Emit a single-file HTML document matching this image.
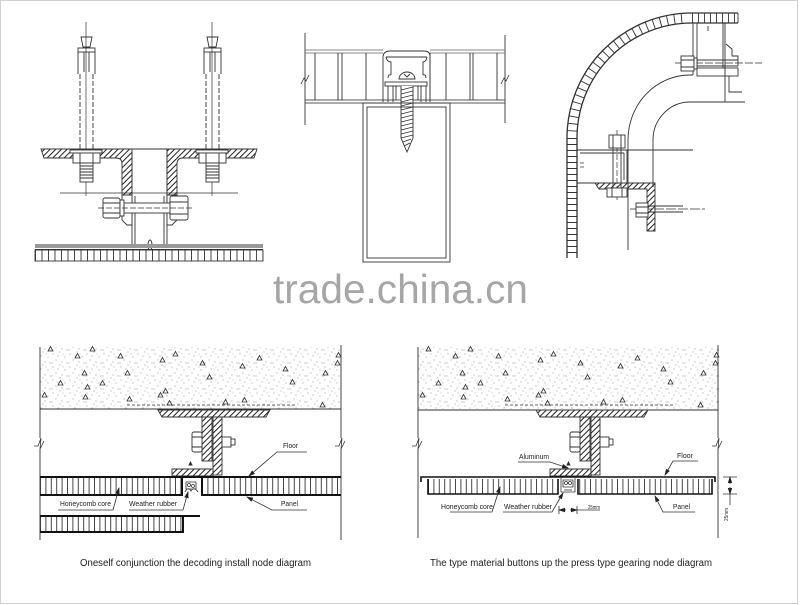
<!DOCTYPE html>
<html><head><meta charset="utf-8"><style>
html,body{margin:0;padding:0;background:#fff;}
svg{display:block;}
</style></head><body>
<svg width="800" height="605" viewBox="0 0 800 605" xmlns="http://www.w3.org/2000/svg" xmlns:xlink="http://www.w3.org/1999/xlink">
<defs>
<pattern id="hatch" width="4" height="4" patternUnits="userSpaceOnUse" patternTransform="rotate(45)">
  <line x1="1" y1="0" x2="1" y2="4" stroke="#222" stroke-width="1"/>
</pattern>
<pattern id="cellsA" x="35" y="0" width="6.5" height="20" patternUnits="userSpaceOnUse">
  <line x1="0.5" y1="0" x2="0.5" y2="20" stroke="#333" stroke-width="0.9"/>
</pattern>
<pattern id="cellsB" x="40" y="0" width="5.4" height="20" patternUnits="userSpaceOnUse">
  <line x1="0.5" y1="0" x2="0.5" y2="20" stroke="#333" stroke-width="0.9"/>
</pattern>
<pattern id="cellsC" x="428" y="0" width="5.4" height="20" patternUnits="userSpaceOnUse">
  <line x1="0.5" y1="0" x2="0.5" y2="20" stroke="#333" stroke-width="0.9"/>
</pattern>
<pattern id="hl6" x="0" y="138" width="20" height="6" patternUnits="userSpaceOnUse">
  <line x1="0" y1="0.5" x2="20" y2="0.5" stroke="#333" stroke-width="0.9"/>
</pattern>
<pattern id="vl6" x="692" y="0" width="6" height="20" patternUnits="userSpaceOnUse">
  <line x1="0.5" y1="0" x2="0.5" y2="20" stroke="#333" stroke-width="0.9"/>
</pattern>
<pattern id="conc" width="17" height="13" patternUnits="userSpaceOnUse">
  <g fill="#666">
  <circle cx="2" cy="3" r="0.45"/><circle cx="9" cy="1" r="0.45"/><circle cx="14" cy="6" r="0.45"/>
  <circle cx="5" cy="9" r="0.45"/><circle cx="11" cy="11" r="0.45"/><circle cx="16" cy="12" r="0.45"/>
  <circle cx="7" cy="5" r="0.45"/><circle cx="1" cy="12" r="0.45"/><circle cx="12" cy="3" r="0.4"/>
  </g>
</pattern>
<marker id="ah" markerWidth="7" markerHeight="6" refX="6" refY="3" orient="auto" markerUnits="userSpaceOnUse">
  <path d="M0 0.8 L7 3 L0 5.2 z" fill="#222"/>
</marker>
<path id="tri" d="M0 0 l2.5 -4.5 l2.5 4.5 z" fill="none" stroke="#333" stroke-width="0.8"/>
<line id="rl" x1="567" y1="138" x2="577" y2="138" stroke="#333" stroke-width="0.9"/>

<g id="anc" fill="none" stroke="#333" stroke-width="0.9">
  <line x1="86" y1="22" x2="86" y2="196" stroke-width="0.7"/>
  <path d="M81 37 H92 L90 47 H83 Z"/>
  <rect x="78" y="48" width="17" height="4"/>
  <path d="M78 52 V74 M95 52 V74 M84 52 V72 M89 52 V72"/>
  <path d="M80 74 V150 M93 74 V150" stroke-dasharray="5 2"/>
  <rect x="70" y="150" width="32" height="3" fill="#fff"/>
  <rect x="73" y="153" width="27" height="10" fill="#fff"/>
  <path d="M80 153 V163 M93 153 V163"/>
  <rect x="80" y="163" width="13" height="19" fill="#fff"/>
  <path d="M80 166 H93 M80 169 H93 M80 172 H93 M80 175 H93 M80 178 H93"/>
</g>

<g id="conc1">
  <rect x="40" y="347" width="301" height="62" fill="url(#conc)"/>
  <use xlink:href="#tri" x="48" y="351"/><use xlink:href="#tri" x="75" y="358"/><use xlink:href="#tri" x="90" y="351"/>
  <use xlink:href="#tri" x="118" y="358"/><use xlink:href="#tri" x="160" y="362"/><use xlink:href="#tri" x="173" y="356"/>
  <use xlink:href="#tri" x="200" y="365"/><use xlink:href="#tri" x="240" y="368"/><use xlink:href="#tri" x="257" y="360"/>
  <use xlink:href="#tri" x="283" y="371"/><use xlink:href="#tri" x="323" y="375"/><use xlink:href="#tri" x="336" y="357"/>
  <use xlink:href="#tri" x="335" y="365"/><use xlink:href="#tri" x="82" y="375"/><use xlink:href="#tri" x="58" y="385"/>
  <use xlink:href="#tri" x="100" y="385"/><use xlink:href="#tri" x="125" y="375"/><use xlink:href="#tri" x="83" y="399"/>
  <use xlink:href="#tri" x="163" y="393"/><use xlink:href="#tri" x="158" y="397"/><use xlink:href="#tri" x="127" y="401"/>
  <use xlink:href="#tri" x="167" y="405"/><use xlink:href="#tri" x="223" y="404"/><use xlink:href="#tri" x="242" y="402"/>
  <use xlink:href="#tri" x="290" y="384"/><use xlink:href="#tri" x="320" y="407"/><use xlink:href="#tri" x="42" y="397"/>
  <use xlink:href="#tri" x="207" y="379"/><use xlink:href="#tri" x="85" y="389"/>
  <line x1="127" y1="405" x2="297" y2="405" stroke="#333" stroke-width="0.8" stroke-dasharray="3 2"/>
</g>

<g id="tb" stroke="#333" stroke-width="0.9">
  <path d="M158 410 H270 L266 417 H162 Z" fill="url(#hatch)"/>
  <rect x="202" y="417" width="10" height="44" fill="url(#hatch)"/>
  <rect x="213" y="417" width="9" height="58" fill="url(#hatch)"/>
  <rect x="192" y="432" width="10" height="20" rx="2" fill="#fff"/>
  <path d="M192 437 H202 M192 447 H202" fill="none"/>
  <rect x="222" y="437" width="9" height="10" fill="#fff"/>
  <rect x="231" y="439" width="4" height="6" fill="#fff"/>
  <path d="M172 469 H213 V476 H172 Z" fill="url(#hatch)"/>
  <path d="M189 465 l1.5 -3 l1.5 3 z" fill="#222"/>
</g>
</defs>

<rect x="0.5" y="0.5" width="797" height="603" fill="#fff" stroke="#d0d0d0" stroke-width="1"/>

<!-- ============ TOP LEFT ============ -->
<g fill="none" stroke="#333" stroke-width="0.9">
  <path d="M41 149 H132 V195 H122 V164 Q122 158 116 158 H44 Z" fill="url(#hatch)"/>
  <path d="M167 149 H257 L254 158 H183 Q177 158 177 164 V195 H167 Z" fill="url(#hatch)"/>
  <line x1="41" y1="149" x2="257" y2="149"/>
  <path d="M132 149 V248 M167 149 V248"/>
  <path d="M135 196 V246 M164 196 V246"/>
  <line x1="60" y1="193" x2="238" y2="193" stroke-width="0.8"/>
</g>
<use xlink:href="#anc"/>
<use xlink:href="#anc" x="126"/>
<g fill="#fff" stroke="#333" stroke-width="0.9">
  <path d="M122 195 H132 V225 H127 L122 220 Z"/>
  <path d="M167 195 H177 V220 L172 225 H167 Z"/>
  <rect x="124" y="203" width="46" height="10"/>
  <rect x="103" y="198" width="17" height="20" rx="2"/>
  <path d="M103 203 H120 M103 213 H120" fill="none"/>
  <rect x="120" y="200" width="4" height="16"/>
  <rect x="170" y="196" width="18" height="24" rx="2"/>
  <path d="M170 202 H188 M170 214 H188" fill="none"/>
  <line x1="98" y1="208" x2="194" y2="208" stroke-dasharray="6 2" stroke-width="0.7"/>
  <ellipse cx="150" cy="245" rx="2" ry="5"/>
</g>
<rect x="35" y="244" width="228" height="4" fill="#999"/>
<line x1="35" y1="249.5" x2="263" y2="249.5" stroke="#333" stroke-width="1"/>
<rect x="35" y="250" width="228" height="11" fill="url(#cellsA)" stroke="#333" stroke-width="0.9"/>

<!-- ============ TOP MIDDLE ============ -->
<g fill="none" stroke="#333" stroke-width="0.9">
  <line x1="305" y1="33" x2="305" y2="125"/>
  <line x1="505" y1="35" x2="505" y2="123"/>
  <path d="M301 84 L304 78 L306 81 L309 75" stroke-width="0.8"/>
  <path d="M501 84 L504 78 L506 81 L509 75" stroke-width="0.8"/>
  <path d="M305 50 H383 M305 53 H383 M430 50 H505 M430 53 H505" stroke="#888"/>
  <path d="M305 100 H505 M305 103 H505" stroke="#555"/>
  <path d="M315 53 V100 M338 53 V100 M342 53 V100 M366 53 V100 M430 53 V100 M446 53 V100 M470 53 V100 M473 53 V100 M497 53 V100"/>
  <!-- connector -->
  <path d="M383 102 V56 Q384 51 390 51 H424 Q430 51 430 56 V102"/>
  <path d="M386 57 H427 M386 57 Q387 62 391 62 V75 M427 57 Q426 62 423 62 V75"/>
  <path d="M391 75 Q388 74 388 78 M423 75 Q426 74 426 78"/>
  <path d="M399 79 A8 7 0 0 1 415 79 Z" fill="#fff"/>
  <path d="M404 74 L407 77 L410 74"/>
  <rect x="385" y="82" width="42" height="4" fill="#fff"/>
  <path d="M388 86 V102 M393 86 V102 M396 86 V100 M418 86 V100 M421 86 V102 M426 86 V102"/>
  <path d="M401 86 V138 L407 152 L413 138 V86" fill="#fff"/>
  <path d="M401 90 L413 87 M401 94 L413 91 M401 98 L413 95 M401 102 L413 99 M401 106 L413 103 M401 110 L413 107 M401 114 L413 111 M401 118 L413 115 M401 122 L413 119 M401 126 L413 123 M401 130 L413 127 M401 134 L413 131 M401 138 L413 135 M403 142 L411 139 M404 146 L410 143"/>
  <!-- tube -->
  <rect x="363" y="103" width="87" height="159"/>
  <rect x="367" y="107" width="79" height="151"/>
</g>

<!-- ============ TOP RIGHT ============ -->
<g fill="none" stroke="#333" stroke-width="0.9">
  <rect x="567" y="138" width="10" height="120" fill="url(#hl6)" stroke="none"/>
  <rect x="692" y="13" width="46" height="10" fill="url(#vl6)" stroke="none"/>
  <path d="M567 258 V138 A125 125 0 0 1 692 13 H738" stroke-width="1.3"/>
  <path d="M577 258 V138 A115 115 0 0 1 692 23 H738" stroke-width="1.3"/>
  <path d="M738 13 V23"/>
</g>
<g>
  <use xlink:href="#rl" transform="rotate(3.4 692 138)"/><use xlink:href="#rl" transform="rotate(6.8 692 138)"/>
  <use xlink:href="#rl" transform="rotate(10.2 692 138)"/><use xlink:href="#rl" transform="rotate(13.6 692 138)"/>
  <use xlink:href="#rl" transform="rotate(17 692 138)"/><use xlink:href="#rl" transform="rotate(20.4 692 138)"/>
  <use xlink:href="#rl" transform="rotate(23.8 692 138)"/><use xlink:href="#rl" transform="rotate(27.2 692 138)"/>
  <use xlink:href="#rl" transform="rotate(30.6 692 138)"/><use xlink:href="#rl" transform="rotate(34 692 138)"/>
  <use xlink:href="#rl" transform="rotate(37.4 692 138)"/><use xlink:href="#rl" transform="rotate(40.8 692 138)"/>
  <use xlink:href="#rl" transform="rotate(44.2 692 138)"/><use xlink:href="#rl" transform="rotate(47.6 692 138)"/>
  <use xlink:href="#rl" transform="rotate(51 692 138)"/><use xlink:href="#rl" transform="rotate(54.4 692 138)"/>
  <use xlink:href="#rl" transform="rotate(57.8 692 138)"/><use xlink:href="#rl" transform="rotate(61.2 692 138)"/>
  <use xlink:href="#rl" transform="rotate(64.6 692 138)"/><use xlink:href="#rl" transform="rotate(68 692 138)"/>
  <use xlink:href="#rl" transform="rotate(71.4 692 138)"/><use xlink:href="#rl" transform="rotate(74.8 692 138)"/>
  <use xlink:href="#rl" transform="rotate(78.2 692 138)"/><use xlink:href="#rl" transform="rotate(81.6 692 138)"/>
  <use xlink:href="#rl" transform="rotate(85 692 138)"/>
</g>
<g fill="none" stroke="#333" stroke-width="0.9">
  <!-- inner curves -->
  <path d="M628 250 V140 A62 65 0 0 1 690 75 H693"/>
  <path d="M653 187 V140 A37 38 0 0 1 690 102 H745"/>
  <!-- upper bracket -->
  <path d="M693 23 V75 M697 23 V68 M723 23 V68 M725 23 V102"/>
  <path d="M708 26 V31" />
  <line x1="675" y1="63" x2="762" y2="63" stroke-dasharray="8 2" stroke-width="0.7"/>
  <rect x="681" y="56" width="13" height="15" fill="#fff"/>
  <path d="M681 60 H694 M681 67 H694"/>
  <rect x="694" y="58" width="3" height="11" fill="#fff"/>
  <path d="M697 60 H738 M697 66 H738"/>
  <rect x="697" y="68" width="41" height="8"/>
  <path d="M726 44 L732 49 V56 H738 V66"/>
  <path d="M729 76 V92 H742"/>
  <!-- lower bracket -->
  <line x1="577" y1="150" x2="693" y2="150"/>
  <path d="M577 150 V183 H627 V150 M624 153 V180 M580 153 H624"/>
  <path d="M580 163 H584 M580 167 H584" stroke-width="0.7"/>
  <path d="M595 183 H655 V231 H647 V189 H599 Z" fill="url(#hatch)"/>
  <line x1="617" y1="130" x2="617" y2="202" stroke-dasharray="6 2" stroke-width="0.7"/>
  <rect x="609" y="135" width="16" height="13" fill="#fff"/>
  <path d="M613 135 V148 M621 135 V148"/>
  <path d="M613 148 V188 M621 148 V188"/>
  <rect x="607" y="188" width="20" height="9" fill="#fff"/>
  <path d="M612 188 V197 M622 188 V197"/>
  <line x1="630" y1="209" x2="705" y2="209" stroke-dasharray="10 2" stroke-width="0.7"/>
  <rect x="636" y="203" width="12" height="14" fill="#fff"/>
  <path d="M636 207 H648 M636 213 H648"/>
  <path d="M648 206 H683 M648 212 H683"/>
</g>

<!-- watermark -->
<text x="273" y="303" font-family="Liberation Sans, Arial, sans-serif" font-size="41" fill="#a6a6a6" textLength="255" lengthAdjust="spacingAndGlyphs">trade.china.cn</text>

<!-- ============ BOTTOM LEFT ============ -->
<use xlink:href="#conc1"/>
<g fill="none" stroke="#333" stroke-width="0.9">
  <line x1="40" y1="409" x2="341" y2="409" stroke-width="1.1"/>
  <path d="M40 347 V438 M40 449 V540"/>
  <path d="M34 446 L38 446 L41 438 L40 449 L44 441" stroke-width="0.8"/>
  <path d="M341 345 V438 M341 449 V540"/>
  <path d="M335 446 L339 446 L342 438 L341 449 L345 441" stroke-width="0.8"/>
</g>
<use xlink:href="#tb"/>
<g stroke="#111">
  <rect x="40" y="478" width="142" height="16" fill="url(#cellsB)" stroke="none"/>
  <rect x="202" y="478" width="139" height="16" fill="url(#cellsB)" stroke="none"/>
  <line x1="40" y1="477" x2="341" y2="477" stroke-width="2"/>
  <path d="M40 495 H182 V477 M202 477 V495 H341" fill="none" stroke-width="2"/>
  <g fill="none" stroke="#333" stroke-width="0.8">
    <path d="M186 482 H196 V489 H186 Z"/>
    <path d="M185 492 Q188 486 191 491 Q194 486 198 492"/>
    <circle cx="189" cy="485" r="1.5"/><circle cx="193" cy="486" r="1.5"/>
  </g>
  <rect x="40" y="517" width="143" height="14" fill="url(#cellsB)" stroke="none"/>
  <path d="M40 516 H200" stroke-width="2"/>
  <path d="M40 532 H183 V516" fill="none" stroke-width="2"/>
</g>
<g fill="none" stroke="#333" stroke-width="0.8">
  <path d="M307 452 H277 L249 476" marker-end="url(#ah)"/>
  <path d="M307 510 H272 L247 497" marker-end="url(#ah)"/>
  <path d="M58 510 H113 L119 488" marker-end="url(#ah)"/>
  <path d="M129 510 H183 L188 492" marker-end="url(#ah)"/>
</g>
<g font-family="Liberation Sans, Arial, sans-serif" font-size="7" fill="#222">
  <text x="283" y="448" textLength="15" lengthAdjust="spacingAndGlyphs">Floor</text>
  <text x="281" y="506" textLength="17" lengthAdjust="spacingAndGlyphs">Panel</text>
  <text x="60" y="506" textLength="51" lengthAdjust="spacingAndGlyphs">Honeycomb core</text>
  <text x="129" y="506" textLength="48" lengthAdjust="spacingAndGlyphs">Weather rubber</text>
</g>
<text x="80" y="566" font-family="Liberation Sans, Arial, sans-serif" font-size="10" fill="#222" textLength="231" lengthAdjust="spacingAndGlyphs">Oneself conjunction the decoding install node diagram</text>

<!-- ============ BOTTOM RIGHT ============ -->
<use xlink:href="#conc1" x="378" transform="translate(0,0)"/>
<g fill="none" stroke="#333" stroke-width="0.9">
  <line x1="418" y1="410" x2="718" y2="410" stroke-width="1.1"/>
  <path d="M418 347 V438 M418 449 V538"/>
  <path d="M412 446 L416 446 L419 438 L418 449 L422 441" stroke-width="0.8"/>
  <path d="M718 345 V438 M718 449 V538"/>
  <path d="M712 446 L716 446 L719 438 L718 449 L722 441" stroke-width="0.8"/>
</g>
<use xlink:href="#tb" x="378"/>
<g stroke="#111">
  <rect x="428" y="479" width="130" height="15" fill="url(#cellsC)" stroke="none"/>
  <rect x="578" y="479" width="134" height="15" fill="url(#cellsC)" stroke="none"/>
  <path d="M421 482 V477 H715 V482" fill="none" stroke-width="1.6"/>
  <path d="M428 479 V494 H558 V479 M578 479 V494 H712 V479" fill="none" stroke-width="1.6"/>
  <g fill="none" stroke="#333" stroke-width="0.8">
    <path d="M561 478 V492 H575 V478"/>
    <path d="M563 480 H573 V487 H563 Z"/>
    <circle cx="566" cy="483" r="1.5"/><circle cx="570" cy="483" r="1.5"/>
    <path d="M564 490 H572"/>
  </g>
</g>
<g fill="none" stroke="#333" stroke-width="0.8">
  <path d="M518 462 H550 L568 468" marker-end="url(#ah)"/>
  <path d="M698 461 H673 L665 475" marker-end="url(#ah)"/>
  <path d="M450 512 H492 L500 487" marker-end="url(#ah)"/>
  <path d="M503 512 H552 L563 493" marker-end="url(#ah)"/>
  <path d="M695 512 H663 L655 496" marker-end="url(#ah)"/>
  <!-- bottom dimension -->
  <path d="M559 506 V514 M577 506 V514"/>
  <path d="M566 510 H559" marker-end="url(#ah)"/>
  <path d="M570 510 H577" marker-end="url(#ah)"/>
  <path d="M577 510 H600"/>
  <!-- right dimension -->
  <path d="M723 477 H737 M723 494 H737"/>
  <path d="M730 484 V477" marker-end="url(#ah)"/>
  <path d="M730 487 V494" marker-end="url(#ah)"/>
  <path d="M730 494 V505"/>
</g>
<g font-family="Liberation Sans, Arial, sans-serif" font-size="7" fill="#222">
  <text x="519" y="459" textLength="30" lengthAdjust="spacingAndGlyphs">Aluminum</text>
  <text x="677" y="458" textLength="16" lengthAdjust="spacingAndGlyphs">Floor</text>
  <text x="441" y="509" textLength="52" lengthAdjust="spacingAndGlyphs">Honeycomb core</text>
  <text x="504" y="509" textLength="48" lengthAdjust="spacingAndGlyphs">Weather rubber</text>
  <text x="673" y="509" textLength="17" lengthAdjust="spacingAndGlyphs">Panel</text>
  <text x="588" y="509" font-size="5" textLength="12" lengthAdjust="spacingAndGlyphs">25mm</text>
  <text x="0" y="0" font-size="5" transform="translate(728 521) rotate(-90)" textLength="13" lengthAdjust="spacingAndGlyphs">25mm</text>
</g>
<text x="430" y="566" font-family="Liberation Sans, Arial, sans-serif" font-size="10" fill="#222" textLength="282" lengthAdjust="spacingAndGlyphs">The type material buttons up the press type gearing node diagram</text>
</svg>
</body></html>
